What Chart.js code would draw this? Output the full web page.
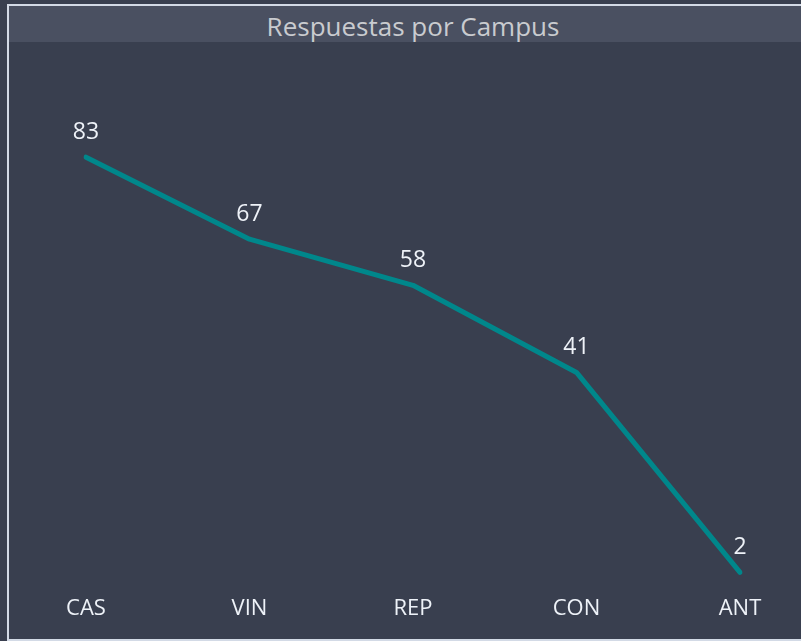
<!DOCTYPE html>
<html>
<head>
<meta charset="utf-8">
<script src="https://cdn.jsdelivr.net/npm/chart.js@4.4.0/dist/chart.umd.min.js"></script>
<style>
  html, body { margin: 0; padding: 0; background: #393f4f; overflow: hidden; }
  #frame {
    position: absolute; left: 7px; top: 4px; width: 810px; height: 633px;
    border: 2px solid #d3dae6; border-right: none;
  }
  #title {
    position: absolute; left: 0; top: 0; width: 792px; height: 36px;
    background: #4a5061; color: #c9cbcf;
    font-family: "Open Sans", sans-serif; font-size: 26px; line-height: 40px;
    text-align: center; padding-left: 16px; box-sizing: border-box; overflow: hidden;
  }
  #wrap { position: absolute; left: 0; top: 0; width: 801px; height: 641px; }
</style>
</head>
<body>
<div id="frame"><div id="title">Respuestas por Campus</div></div>
<div id="wrap"><canvas id="myChart" width="801" height="641"></canvas></div>
<script>
const campus = ['CAS', 'VIN', 'REP', 'CON', 'ANT'];
const respuestas = [83, 67, 58, 41, 2];

// etiquetas de valor encima de cada punto
const valueLabels = {
    id: 'valueLabels',
    afterDatasetsDraw(chart) {
        const ctx = chart.ctx;
        const meta = chart.getDatasetMeta(0);
        ctx.save();
        ctx.font = '23px "Open Sans"';
        ctx.fillStyle = '#eef2f8';
        ctx.textAlign = 'center';
        ctx.textBaseline = 'middle';
        meta.data.forEach((pt, i) => {
            ctx.fillText(String(respuestas[i]), pt.x, pt.y - 25);
        });
        ctx.restore();
    }
};

const ctx = document.getElementById('myChart');
const myChart = new Chart(ctx, {
    type: 'line',
    data: {
        labels: campus,
        datasets: [{
            label: 'Respuestas',
            data: respuestas,
            borderColor: '#00878b',
            borderWidth: 5,
            borderCapStyle: 'round',
            borderJoinStyle: 'round',
            pointRadius: 0,
            tension: 0,
            fill: false,
        }]
    },
    options: {
        responsive: false,
        animation: false,
        layout: {
            padding: {left: 86, right: 61, top: 70, bottom: 6}
        },
        plugins: {
            legend: {display: false},
            tooltip: {enabled: false},
        },
        scales: {
            x: {
                offset: false,
                grid: {display: false, drawTicks: false},
                border: {display: false},
                ticks: {
                    color: '#eef2f8',
                    padding: 13,
                    font: {family: 'Open Sans', size: 22},
                },
            },
            y: {
                display: false,
                min: 0,
                max: 100,
            }
        }
    },
    plugins: [valueLabels]
});
</script>
</body>
</html>
